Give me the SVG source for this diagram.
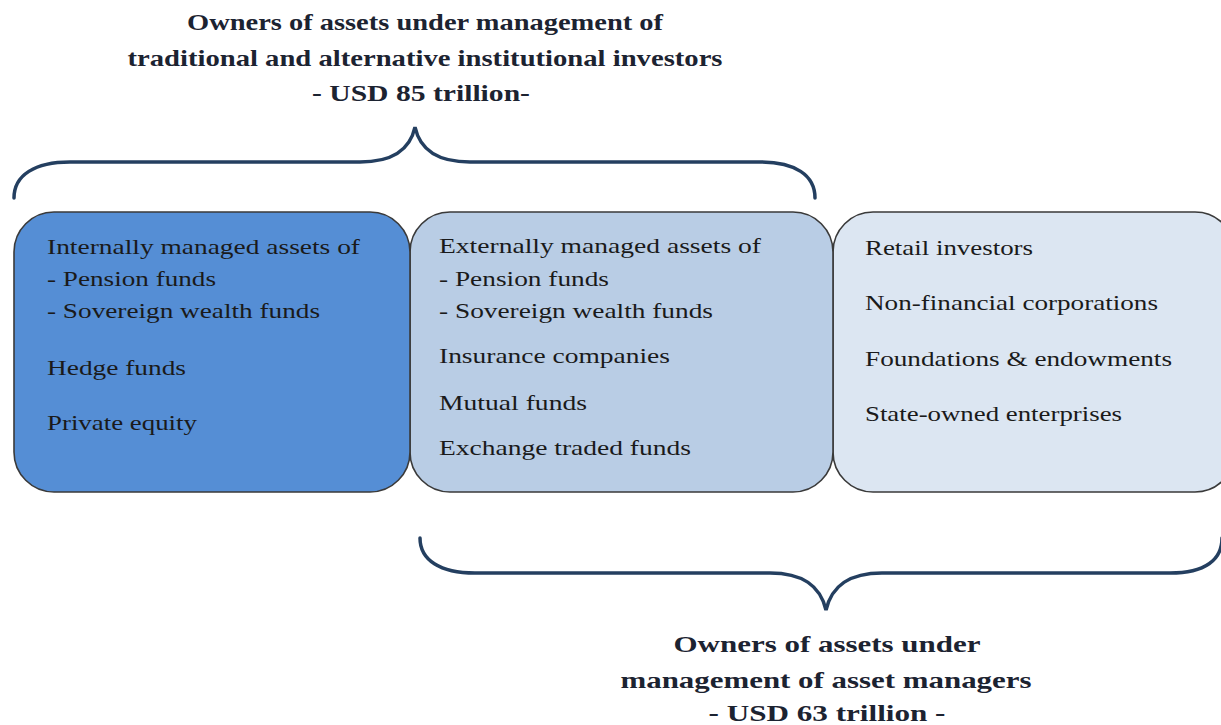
<svg xmlns="http://www.w3.org/2000/svg" width="1221" height="725" viewBox="0 0 1221 725">
<style>
.box{stroke:#3a3a3a;stroke-width:1.6}
.t{font-family:"Liberation Serif","Times New Roman",serif;font-size:21px;fill:#1a1a1a}
.h{font-family:"Liberation Serif","Times New Roman",serif;font-size:24px;font-weight:bold;fill:#1c2331;text-anchor:middle}
.brace{fill:none;stroke:#243f60;stroke-width:3.5;stroke-linecap:round}
</style>
<rect width="1221" height="725" fill="#ffffff"/>
<g id="title-top">
<text class="h" x="425" y="30" textLength="476" lengthAdjust="spacingAndGlyphs">Owners of assets under management of</text>
<text class="h" x="425" y="66" textLength="595" lengthAdjust="spacingAndGlyphs">traditional and alternative institutional investors</text>
<text class="h" x="421" y="101" textLength="218" lengthAdjust="spacingAndGlyphs">- USD 85 trillion-</text>
</g>
<g id="connectors">
<path class="brace" d="M14,198 C14,175 35,162 70,162 L360,162 C392,162 410,150 415,127 C420,150 438,162 470,162 L760,162 C795,162 815,175 815,198"/>
<path class="brace" d="M420,538 C420,560 440,573 475,573 L770,573 C802,573 820,585 826,610 C832,585 850,573 882,573 L1170,573 C1205,573 1222,560 1222,538"/>
</g>
<g id="box3">
<rect class="box" x="833" y="212" width="402" height="280" rx="40" fill="#dce6f2"/>
<text class="t" x="865" y="255" textLength="168" lengthAdjust="spacingAndGlyphs">Retail investors</text>
<text class="t" x="865" y="310" textLength="293" lengthAdjust="spacingAndGlyphs">Non-financial corporations</text>
<text class="t" x="865" y="366" textLength="307" lengthAdjust="spacingAndGlyphs">Foundations &amp; endowments</text>
<text class="t" x="865" y="421" textLength="257" lengthAdjust="spacingAndGlyphs">State-owned enterprises</text>
</g>
<g id="box2">
<rect class="box" x="410" y="212" width="423" height="280" rx="40" fill="#b9cde5"/>
<text class="t" x="439" y="253" textLength="322" lengthAdjust="spacingAndGlyphs">Externally managed assets of</text>
<text class="t" x="439" y="286" textLength="170" lengthAdjust="spacingAndGlyphs">- Pension funds</text>
<text class="t" x="439" y="318" textLength="274" lengthAdjust="spacingAndGlyphs">- Sovereign wealth funds</text>
<text class="t" x="439" y="363" textLength="231" lengthAdjust="spacingAndGlyphs">Insurance companies</text>
<text class="t" x="439" y="410" textLength="148" lengthAdjust="spacingAndGlyphs">Mutual funds</text>
<text class="t" x="439" y="455" textLength="252" lengthAdjust="spacingAndGlyphs">Exchange traded funds</text>
</g>
<g id="box1">
<rect class="box" x="14" y="212" width="396" height="280" rx="40" fill="#558ed5"/>
<text class="t" x="47" y="254" textLength="313" lengthAdjust="spacingAndGlyphs">Internally managed assets of</text>
<text class="t" x="47" y="286" textLength="169" lengthAdjust="spacingAndGlyphs">- Pension funds</text>
<text class="t" x="47" y="318" textLength="273" lengthAdjust="spacingAndGlyphs">- Sovereign wealth funds</text>
<text class="t" x="47" y="375" textLength="139" lengthAdjust="spacingAndGlyphs">Hedge funds</text>
<text class="t" x="47" y="430" textLength="150" lengthAdjust="spacingAndGlyphs">Private equity</text>
</g>
<g id="title-bottom">
<text class="h" x="827" y="652" textLength="307" lengthAdjust="spacingAndGlyphs">Owners of assets under</text>
<text class="h" x="826" y="688" textLength="411" lengthAdjust="spacingAndGlyphs">management of asset managers</text>
<text class="h" x="827" y="721" textLength="237" lengthAdjust="spacingAndGlyphs">- USD 63 trillion -</text>
</g>
</svg>
